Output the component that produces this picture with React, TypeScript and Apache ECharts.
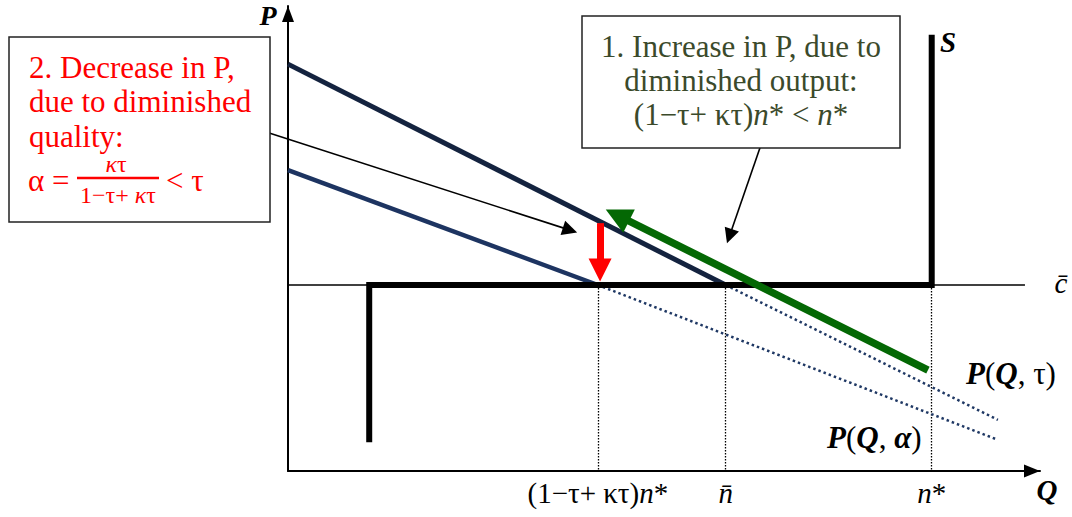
import React, { useEffect, useRef } from "react";
import * as echarts from "echarts";

const FONT = "'Liberation Serif', 'Times New Roman', serif";

// Axis units: Q (x) 0..100, P (y) 0..100
const cBar = 40;
const qLow = 41.2; // (1−τ+ κτ)n*
const qBar = 58.2; // n̄
const qStar = 85.6; // n*
const tickValues = [qLow, qBar, qStar];
const tickLabels = ["{t|(1−τ+ κτ)}{i|n}{t|*}", "{i|n\u0304}", "{i|n}{t|*}"];

const supplyPath = [
  [10.8, 6.2],
  [10.8, cBar],
  [qStar, cBar],
  [qStar, 93.8],
];
const cBarLine = [
  [0, cBar],
  [98, cBar],
];
const demandTauSolid = [
  [0, 87.5],
  [qBar, cBar],
];
const demandTauDotted = [
  [qBar, cBar],
  [94.4, 11.0],
];
const demandAlphaSolid = [
  [0, 64.7],
  [qLow, cBar],
];
const demandAlphaDotted = [
  [qLow, cBar],
  [94.4, 6.7],
];
const greenArrow = [
  [85.1, 21.7],
  [43.8, 55.0],
];
const redArrow = [
  [41.5, 53.3],
  [41.5, 43.2],
];
const blackArrows = [
  [
    [-2.5, 72.7],
    [37.5, 51.8],
  ],
  [
    [62.8, 69.7],
    [58.7, 50.5],
  ],
];

const box2Lines = ["2. Decrease in P,", "due to diminished", "quality:"];
const box1Lines = [
  "1. Increase in P, due to",
  "diminished output:",
  "{a|(1−τ+ κτ)}{b|n}{a|* < }{b|n}{a|*}",
];

function lineSeries(data: number[][], color: string, width: number, type: any, z: number, extra: any = {}) {
  return {
    type: "line",
    data,
    symbol: "none",
    showSymbol: false,
    clip: false,
    silent: true,
    z,
    lineStyle: { color, width, type, ...extra },
  };
}

export default function App() {
  const ref = useRef<HTMLDivElement>(null);
  useEffect(() => {
    if (!ref.current) return;
    const chart = echarts.init(ref.current, null, { renderer: "svg" });
    const option: any = {
      animation: false,
      backgroundColor: "#ffffff",
      grid: { left: 288, top: 6, width: 752, height: 465 },
      xAxis: {
        type: "value",
        min: 0,
        max: 100,
        splitLine: { show: false },
        axisTick: { show: false },
        axisLine: {
          show: true,
          lineStyle: { color: "#000", width: 2 },
          symbol: ["none", "triangle"],
          symbolSize: [13, 16],
          symbolOffset: [0, -8],
        },
        axisLabel: {
          show: true,
          customValues: tickValues,
          margin: 7,
          formatter: (v: number) => {
            let best = 0;
            tickValues.forEach((t, i) => {
              if (Math.abs(t - v) < Math.abs(tickValues[best] - v)) best = i;
            });
            return tickLabels[best];
          },
          rich: {
            t: { fontFamily: FONT, fontSize: 29, color: "#000" },
            i: { fontFamily: FONT, fontSize: 29, color: "#000", fontStyle: "italic" },
          },
        },
      },
      yAxis: {
        type: "value",
        min: 0,
        max: 100,
        splitLine: { show: false },
        axisTick: { show: false },
        axisLabel: { show: false },
        axisLine: {
          show: true,
          lineStyle: { color: "#000", width: 2 },
          symbol: ["none", "triangle"],
          symbolSize: [12, 16],
          symbolOffset: [0, -8],
        },
      },
      series: [
        {
          type: "lines",
          coordinateSystem: "cartesian2d",
          silent: true,
          clip: false,
          z: 2,
          lineStyle: { color: "#000", width: 1.3, type: [1.5, 1.5], opacity: 1 },
          data: tickValues.map((q) => ({ coords: [[q, cBar], [q, 0]] })),
        },
        lineSeries(cBarLine, "#000", 1.3, "solid", 2),
        lineSeries(demandTauDotted, "#1f3864", 2.5, [2.5, 3], 2),
        lineSeries(demandAlphaDotted, "#1f3864", 2.5, [2.5, 3], 2),
        lineSeries(demandAlphaSolid, "#1d3461", 4.5, "solid", 3),
        lineSeries(demandTauSolid, "#14233f", 5, "solid", 3),
        lineSeries(supplyPath, "#000", 6, "solid", 4, { join: "miter" }),
        {
          type: "lines",
          coordinateSystem: "cartesian2d",
          silent: true,
          clip: false,
          z: 6,
          symbol: ["none", "triangle"],
          symbolSize: [0, 26],
          lineStyle: { color: "#046804", width: 7.5, opacity: 1 },
          data: [{ coords: greenArrow }],
        },
        {
          type: "lines",
          coordinateSystem: "cartesian2d",
          silent: true,
          clip: false,
          z: 6,
          symbol: ["none", "triangle"],
          symbolSize: [0, 23],
          lineStyle: { color: "#ff0000", width: 7, opacity: 1 },
          data: [{ coords: redArrow }],
        },
        {
          type: "lines",
          coordinateSystem: "cartesian2d",
          silent: true,
          clip: false,
          z: 6,
          symbol: ["none", "triangle"],
          symbolSize: [0, 15],
          lineStyle: { color: "#000", width: 1.6, opacity: 1 },
          data: blackArrows.map((c) => ({ coords: c })),
        },
      ],
      graphic: [
        {
          type: "rect",
          z: 10,
          shape: { x: 9, y: 37, width: 261, height: 185 },
          style: { fill: "#fff", stroke: "#222", lineWidth: 1.5 },
        },
        ...box2Lines.map((t, i) => ({
          type: "text",
          z: 11,
          x: 29,
          y: 67 + i * 34.5,
          style: {
            text: t,
            font: `31px ${FONT}`,
            lineHeight: 28,
            fill: "#ff0000",
            verticalAlign: "middle",
            align: "left",
          },
        })),
        {
          type: "text",
          z: 11,
          x: 28,
          y: 180,
          style: {
            text: "α =",
            font: `31px ${FONT}`,
            lineHeight: 26,
            fill: "#ff0000",
            verticalAlign: "middle",
            align: "left",
          },
        },
        {
          type: "text",
          z: 11,
          x: 116,
          y: 164,
          style: {
            text: "{i|κ}{u|τ}",
            fill: "#ff0000",
            verticalAlign: "middle",
            align: "center",
            rich: {
              i: { fontFamily: FONT, fontSize: 24, fontStyle: "italic", fill: "#ff0000", lineHeight: 20 },
              u: { fontFamily: FONT, fontSize: 24, fill: "#ff0000", lineHeight: 20 },
            },
          },
        },
        {
          type: "line",
          z: 11,
          shape: { x1: 77, y1: 178, x2: 159, y2: 178 },
          style: { stroke: "#ff0000", lineWidth: 2.5 },
        },
        {
          type: "text",
          z: 11,
          x: 118,
          y: 195,
          style: {
            text: "{u|1−τ+ }{i|κ}{u|τ}",
            fill: "#ff0000",
            verticalAlign: "middle",
            align: "center",
            rich: {
              i: { fontFamily: FONT, fontSize: 24, fontStyle: "italic", fill: "#ff0000", lineHeight: 20 },
              u: { fontFamily: FONT, fontSize: 24, fill: "#ff0000", lineHeight: 20 },
            },
          },
        },
        {
          type: "text",
          z: 11,
          x: 166,
          y: 180,
          style: {
            text: "< τ",
            font: `31px ${FONT}`,
            lineHeight: 26,
            fill: "#ff0000",
            verticalAlign: "middle",
            align: "left",
          },
        },
        {
          type: "rect",
          z: 10,
          shape: { x: 582, y: 16, width: 318, height: 132 },
          style: { fill: "#fff", stroke: "#222", lineWidth: 1.5 },
        },
        ...box1Lines.map((t, i) => ({
          type: "text",
          z: 11,
          x: 741,
          y: 46 + i * 34,
          style: {
            text: t,
            font: `31px ${FONT}`,
            lineHeight: 30,
            fill: "#3b4a2b",
            verticalAlign: "middle",
            align: "center",
            rich: {
              a: { fontFamily: FONT, fontSize: 31, fill: "#3b4a2b", lineHeight: 30 },
              b: { fontFamily: FONT, fontSize: 31, fill: "#3b4a2b", fontStyle: "italic", lineHeight: 30 },
            },
          },
        })),
        {
          type: "text",
          z: 11,
          x: 268,
          y: 15,
          style: { text: "P", font: `italic bold 28px ${FONT}`, fill: "#000", align: "center", verticalAlign: "middle" },
        },
        {
          type: "text",
          z: 11,
          x: 1047,
          y: 490,
          style: { text: "Q", font: `italic bold 29px ${FONT}`, fill: "#000", align: "center", verticalAlign: "middle" },
        },
        {
          type: "text",
          z: 11,
          x: 948,
          y: 42,
          style: { text: "S", font: `italic bold 29px ${FONT}`, fill: "#000", align: "center", verticalAlign: "middle" },
        },
        {
          type: "text",
          z: 11,
          x: 1061,
          y: 283,
          style: { text: "c\u0304", font: `italic 29px ${FONT}`, fill: "#000", align: "center", verticalAlign: "middle" },
        },
        {
          type: "text",
          z: 11,
          x: 966,
          y: 373,
          style: {
            text: "{b|P}{r|(}{b|Q}{r|, τ)}",
            align: "left",
            verticalAlign: "middle",
            rich: {
              b: { fontFamily: FONT, fontSize: 31, fontStyle: "italic", fontWeight: "bold", fill: "#000" },
              r: { fontFamily: FONT, fontSize: 31, fill: "#000" },
            },
          },
        },
        {
          type: "text",
          z: 11,
          x: 827,
          y: 437,
          style: {
            text: "{b|P}{r|(}{b|Q}{r|, }{b|α}{r|)}",
            align: "left",
            verticalAlign: "middle",
            rich: {
              b: { fontFamily: FONT, fontSize: 31, fontStyle: "italic", fontWeight: "bold", fill: "#000" },
              r: { fontFamily: FONT, fontSize: 31, fill: "#000" },
            },
          },
        },
      ],
    };
    chart.setOption(option);
    return () => chart.dispose();
  }, []);
  return (
    <div
      ref={ref}
      style={{ position: "fixed", left: 0, top: 0, width: 1072, height: 517, background: "#fff" }}
    />
  );
}
